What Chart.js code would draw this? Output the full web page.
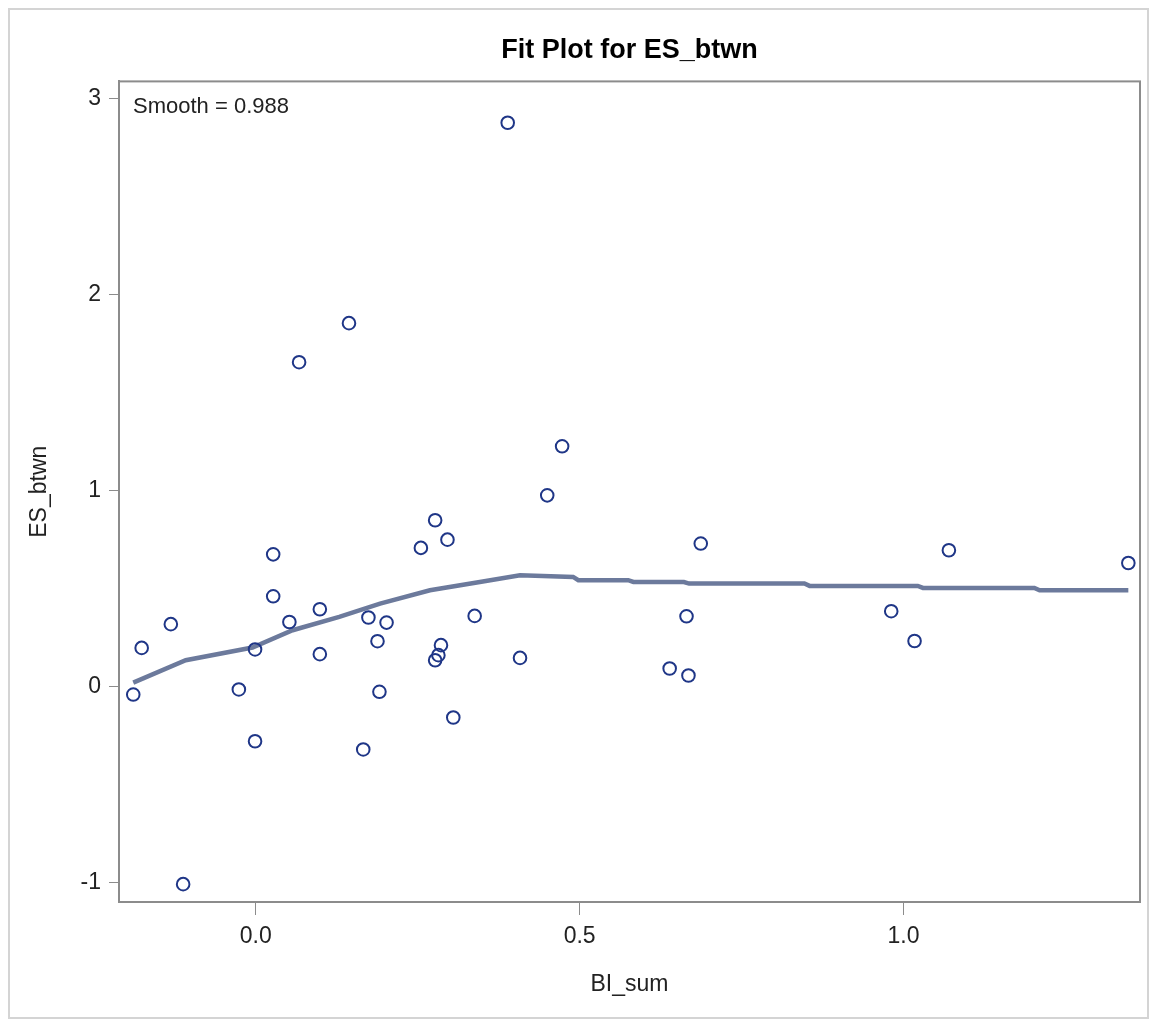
<!DOCTYPE html>
<html>
<head>
<meta charset="utf-8">
<script src="https://cdn.jsdelivr.net/npm/chart.js@4.4.1/dist/chart.umd.min.js"></script>
<style>
  body { margin: 0; background: #fff; }
  canvas { display: block; }
</style>
</head>
<body>
<canvas id="fit-plot-chart" width="1157" height="1022"></canvas>
<script>
// observed values (BI_sum, ES_btwn)
const biSum = [
  -0.189, -0.176, -0.131, -0.112, -0.026, -0.001, -0.001, 0.027, 0.027, 0.052,
  0.067, 0.099, 0.099, 0.144, 0.166, 0.174, 0.188, 0.191, 0.202, 0.255,
  0.277, 0.277, 0.282, 0.286, 0.296, 0.305, 0.338, 0.389, 0.408, 0.450,
  0.473, 0.639, 0.665, 0.668, 0.687, 0.981, 1.017, 1.070, 1.347
];
const esBtwn = [
  -0.040, 0.198, 0.319, -1.007, -0.014, 0.190, -0.278, 0.675, 0.461, 0.330,
  1.655, 0.395, 0.166, 1.854, -0.320, 0.353, 0.232, -0.026, 0.327, 0.708,
  0.849, 0.135, 0.161, 0.212, 0.750, -0.157, 0.361, 2.876, 0.147, 0.976,
  1.226, 0.093, 0.359, 0.057, 0.730, 0.385, 0.233, 0.696, 0.631
];

// loess smooth curve
const smoothX = [
  -0.189, -0.108, -0.005, 0.057, 0.129, 0.192, 0.269, 0.346, 0.408,
  0.490, 0.498, 0.575, 0.583, 0.661, 0.669, 0.847, 0.855, 1.022, 1.030, 1.202, 1.210, 1.347
];
const smoothY = [
  0.021, 0.135, 0.200, 0.288, 0.356, 0.424, 0.492, 0.534, 0.568,
  0.560, 0.543, 0.543, 0.534, 0.534, 0.526, 0.526, 0.514, 0.514, 0.504, 0.504, 0.492, 0.492
];

const xTicks = [0.0, 0.5, 1.0];
const yTicks = [-1, 0, 1, 2, 3];

const fontFamily = "'Liberation Sans', Arial, sans-serif";
const axisColor = '#8c8c8c';

const frameAndNotePlugin = {
    id: 'frameAndNote',
    beforeDraw(chart) {
        const ctx = chart.ctx;
        ctx.save();
        ctx.fillStyle = '#ffffff';
        ctx.fillRect(0, 0, chart.width, chart.height);
        ctx.strokeStyle = '#d4d4d4';
        ctx.lineWidth = 2;
        ctx.strokeRect(9, 9, chart.width - 18, chart.height - 13);
        ctx.restore();
    },
    afterDraw(chart) {
        const {ctx, chartArea} = chart;
        ctx.save();
        ctx.strokeStyle = axisColor;
        ctx.lineWidth = 2;
        ctx.strokeRect(chartArea.left, chartArea.top, chartArea.right - chartArea.left, chartArea.bottom - chartArea.top);
        ctx.fillStyle = '#222';
        ctx.font = "22px " + fontFamily;
        ctx.textBaseline = 'alphabetic';
        ctx.fillText('Smooth = 0.988', chartArea.left + 14, chartArea.top + 32);
        ctx.restore();
    }
};

const ctx = document.getElementById('fit-plot-chart').getContext('2d');
const fitChart = new Chart(ctx, {
    type: 'scatter',
    data: {
        datasets: [{
            label: 'Loess',
            type: 'line',
            data: smoothX.map((x, i) => ({x: x, y: smoothY[i]})),
            borderColor: '#6c7a9c',
            borderWidth: 4.5,
            pointRadius: 0,
            tension: 0,
            fill: false,
            order: 2
        }, {
            label: 'ES_btwn',
            data: biSum.map((x, i) => ({x: x, y: esBtwn[i]})),
            pointStyle: 'circle',
            pointRadius: 6.3,
            pointBorderWidth: 2,
            pointBorderColor: '#1f3687',
            pointBackgroundColor: 'rgba(0,0,0,0)',
            order: 1
        }]
    },
    options: {
        responsive: false,
        animation: false,
        layout: {
            padding: { top: 0, left: 0, right: 17, bottom: 0 }
        },
        plugins: {
            legend: { display: false },
            tooltip: { enabled: false },
            title: {
                display: true,
                fullSize: false,
                text: 'Fit Plot for ES_btwn',
                color: '#000',
                font: { family: fontFamily, size: 27, weight: 'bold', lineHeight: 1.2 },
                padding: { top: 34, bottom: 15 }
            }
        },
        scales: {
            x: {
                type: 'linear',
                min: -0.211,
                max: 1.365,
                afterBuildTicks: (scale) => { scale.ticks = xTicks.map(v => ({value: v})); },
                afterFit: (scale) => { scale.height = 120; },
                ticks: {
                    color: '#222',
                    padding: 8,
                    font: { family: fontFamily, size: 23 },
                    callback: (v) => Number(v).toFixed(1)
                },
                grid: { display: true, drawOnChartArea: false, drawTicks: true, tickLength: 13, color: axisColor, lineWidth: 1 },
                border: { display: true, color: axisColor, width: 2 },
                title: {
                    display: true,
                    text: 'BI_sum',
                    color: '#222',
                    font: { family: fontFamily, size: 23 },
                    padding: { top: 0, bottom: 24 }
                }
            },
            y: {
                type: 'linear',
                min: -1.098,
                max: 3.087,
                afterBuildTicks: (scale) => { scale.ticks = yTicks.map(v => ({value: v})); },
                afterFit: (scale) => { scale.width = 119; },
                ticks: {
                    color: '#222',
                    padding: 8,
                    font: { family: fontFamily, size: 23 },
                    callback: (v) => String(v)
                },
                grid: { display: true, drawOnChartArea: false, drawTicks: true, tickLength: 10, color: axisColor, lineWidth: 1 },
                border: { display: true, color: axisColor, width: 2 },
                title: {
                    display: true,
                    text: 'ES_btwn',
                    color: '#222',
                    font: { family: fontFamily, size: 23 },
                    padding: { top: 26, bottom: 0 }
                }
            }
        }
    },
    plugins: [ frameAndNotePlugin ],
});
</script>
</body>
</html>
